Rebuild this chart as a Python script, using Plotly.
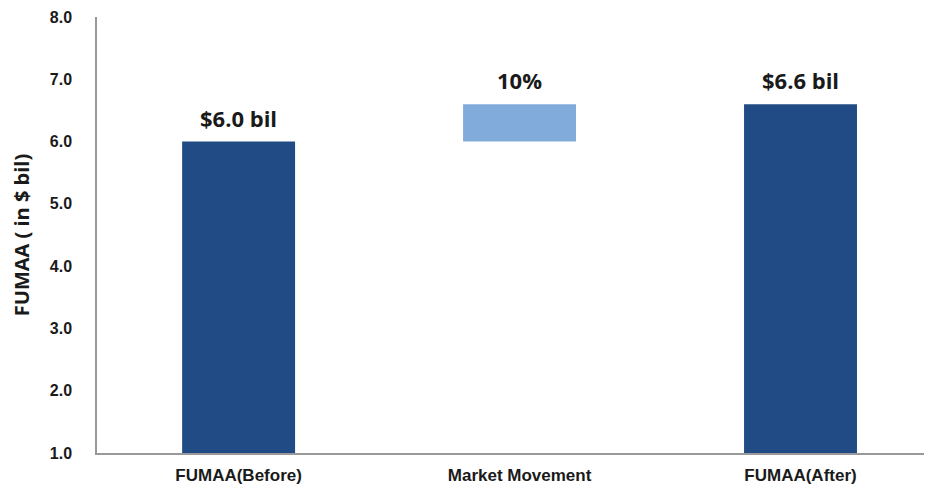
import plotly.graph_objects as go

categories = ["FUMAA(Before)", "Market Movement", "FUMAA(After)"]
before_value = 6.0
market_change = 0.6
after_value = 6.6
value_labels = ["$6.0 bil", "10%", "$6.6 bil"]
y_ticks = [1.0, 2.0, 3.0, 4.0, 5.0, 6.0, 7.0, 8.0]

tops = [before_value, before_value + market_change, after_value]
bases = [0, before_value, 0]
heights = [before_value, market_change, after_value]
colors = ["#214B85", "#80ABDB", "#214B85"]

fig = go.Figure()
fig.add_trace(go.Bar(
    x=categories, y=heights, base=bases,
    marker=dict(color=colors, line=dict(width=0)),
    width=0.402, hoverinfo="skip", showlegend=False,
))

for c, t, lab in zip(categories, tops, value_labels):
    fig.add_annotation(x=c, y=t, text="<b>" + lab + "</b>", showarrow=False,
                       yanchor="bottom", yshift=7,
                       font=dict(family="Open Sans, Lato, sans-serif", size=22, color="#1a1a1a"))

# page body adds an 8px offset, so the figure is sized to fit the 932x488 window
fig.update_layout(
    width=924, height=480,
    margin=dict(l=89, r=0, t=9, b=35),
    plot_bgcolor="white", paper_bgcolor="white",
    xaxis=dict(
        range=[-0.504, 2.468], showgrid=False, zeroline=False, automargin=False,
        showline=True, linecolor="#999999", linewidth=1.5,
        ticks="", tickfont=dict(family="Liberation Sans, Arial", size=17, color="#1a1a1a"),
        tickvals=categories, ticktext=["<b>" + c + "</b>" for c in categories],
        ticklabelstandoff=6,
    ),
    yaxis=dict(
        range=[1.0, 8.0], showgrid=False, zeroline=False, automargin=False,
        showline=True, linecolor="#999999", linewidth=1.5,
        tickvals=y_ticks, ticktext=["<b>%.1f</b>" % v for v in y_ticks],
        ticks="", tickfont=dict(family="Liberation Sans, Arial", size=16, color="#1a1a1a"),
        ticklabelstandoff=20,
        title=dict(text="<b>FUMAA ( in $ bil)</b>", standoff=20,
                   font=dict(family="Open Sans, Lato, sans-serif", size=20, color="#1a1a1a")),
    ),
)

fig.write_html("out.html")
